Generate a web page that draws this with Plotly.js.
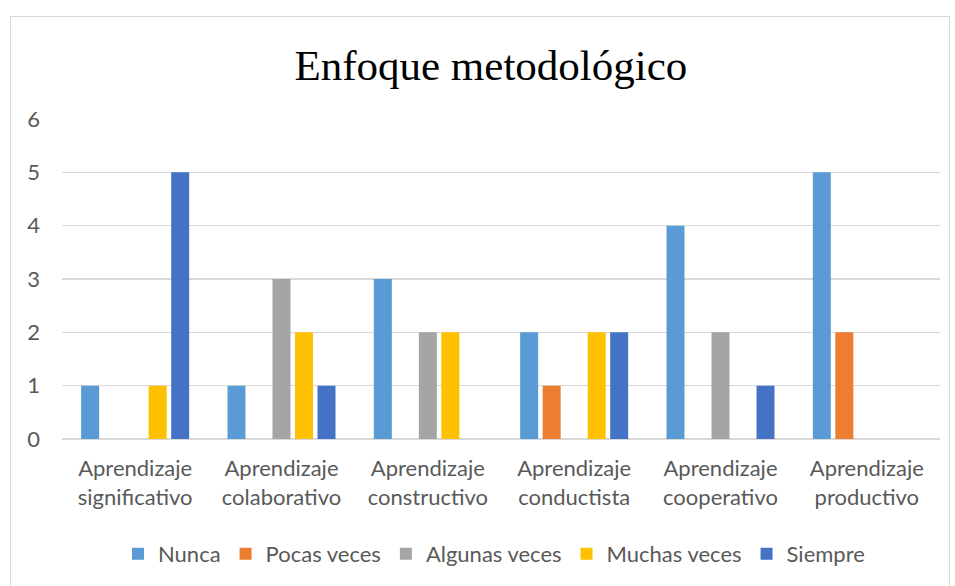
<!DOCTYPE html>
<html>
<head>
<meta charset="utf-8">
<script src="https://cdn.plot.ly/plotly-3.0.1.min.js"></script>
<style>
html,body{margin:0;padding:0;background:#fff;}
#wrap{position:relative;width:955px;height:586px;overflow:hidden;}
#frame{position:absolute;left:10px;top:16px;width:940px;height:600px;border:1px solid #d9d9d9;box-sizing:border-box;pointer-events:none;z-index:5;}
#chart{position:absolute;left:0;top:0;width:955px;height:586px;}
</style>
</head>
<body>
<div id="wrap"><div id="chart"></div><div id="frame"></div></div>
<script>
const categories = ["Aprendizaje<br>significativo","Aprendizaje<br>colaborativo","Aprendizaje<br>constructivo","Aprendizaje<br>conductista","Aprendizaje<br>cooperativo","Aprendizaje<br>productivo"];
const seriesNames = ["Nunca","Pocas veces","Algunas veces","Muchas veces","Siempre"];
const nunca = [1,1,3,2,4,5];
const pocasVeces = [0,0,0,1,0,2];
const algunasVeces = [0,3,2,0,2,0];
const muchasVeces = [1,2,2,2,0,0];
const siempre = [5,1,0,2,1,0];
const yTicks = [0,1,2,3,4,5,6];
const colors = ["#5B9BD5","#ED7D31","#A5A5A5","#FFC000","#4472C4"];
const values = [nunca,pocasVeces,algunasVeces,muchasVeces,siempre];

const traces = values.map((v,i)=>({
  type:'bar', x:categories, y:v, name:seriesNames[i],
  marker:{color:colors[i]}, hoverinfo:'skip'
}));

const font = "Lato, 'Open Sans', sans-serif";
const layout = {
  width:955, height:586,
  margin:{l:62, r:15, t:119, b:146},
  paper_bgcolor:'#fff', plot_bgcolor:'#fff',
  barmode:'group', bargap:0.231, bargroupgap:0.2,
  title:{text:'Enfoque metodológico', font:{family:"'Liberation Serif','Times New Roman',serif", size:43, color:'#000'},
         x:0.514, xanchor:'center', y:0.89, yanchor:'middle'},
  xaxis:{tickfont:{family:font, size:22, color:'#595959'}, showgrid:false, zeroline:false,
         showline:false, ticks:'', automargin:false, ticklabelstandoff:14},
  yaxis:{range:[0,6], tickvals:yTicks, ticktext:yTicks.map(String), tickfont:{family:font, size:22, color:'#595959'},
         gridcolor:'#d9d9d9', gridwidth:1.5, zeroline:true, zerolinecolor:'#d9d9d9', zerolinewidth:1.5,
         showline:false, ticks:'', ticklabelstandoff:21, automargin:false},
  legend:{orientation:'h', x:(494-62)/878, xanchor:'center', y:-0.355, yanchor:'middle',
          xref:'paper', font:{family:font, size:22, color:'#595959'}, itemclick:false, traceorder:'normal', itemwidth:30},
  showlegend:true
};
Plotly.newPlot('chart', traces, layout, {staticPlot:true, displayModeBar:false});
</script>
</body>
</html>
